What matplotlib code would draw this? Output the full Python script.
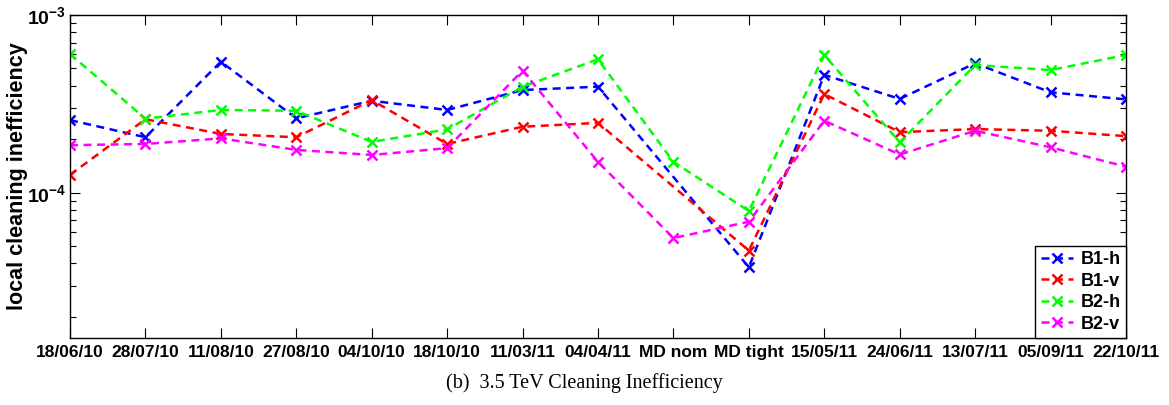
import numpy as np
import matplotlib
matplotlib.use('Agg')
import matplotlib.pyplot as plt
from matplotlib.ticker import FixedLocator, FuncFormatter, NullFormatter, LogLocator

# ── data ───────────────────────────────────────────────────────
DATES = ['18/06/10', '28/07/10', '11/08/10', '27/08/10', '04/10/10',
         '18/10/10', '11/03/11', '04/04/11', 'MD nom', 'MD tight',
         '15/05/11', '24/06/11', '13/07/11', '05/09/11', '22/10/11']

# B1 has no MD nom measurement
B1_H = [2.56e-4, 2.05e-4, 5.46e-4, 2.62e-4, 3.29e-4, 2.92e-4, 3.78e-4, 3.95e-4,
        np.nan, 3.80e-5, 4.60e-4, 3.37e-4, 5.35e-4, 3.67e-4, 3.35e-4]
B1_V = [1.26e-4, 2.59e-4, 2.14e-4, 2.05e-4, 3.32e-4, 1.88e-4, 2.35e-4, 2.47e-4,
        np.nan, 4.72e-5, 3.59e-4, 2.19e-4, 2.28e-4, 2.23e-4, 2.08e-4]
B2_H = [6.03e-4, 2.61e-4, 2.92e-4, 2.89e-4, 1.93e-4, 2.27e-4, 3.95e-4, 5.63e-4,
        1.49e-4, 7.88e-5, 5.95e-4, 1.92e-4, 5.23e-4, 4.90e-4, 5.95e-4]
B2_V = [1.85e-4, 1.88e-4, 2.02e-4, 1.74e-4, 1.63e-4, 1.78e-4, 4.86e-4, 1.49e-4,
        5.55e-5, 6.86e-5, 2.54e-4, 1.64e-4, 2.23e-4, 1.80e-4, 1.40e-4]

SERIES = [('B1-h', B1_H, '#0000ff'), ('B1-v', B1_V, '#ff0000'),
          ('B2-h', B2_H, '#00ff00'), ('B2-v', B2_V, '#ff00ff')]

YMIN, YMAX = 1.52e-5, 1e-3
SANS = 'Liberation Sans'
SERIF = 'Liberation Serif'

plt.rcParams['mathtext.fontset'] = 'custom'
plt.rcParams['mathtext.bf'] = 'Liberation Sans:bold'
plt.rcParams['mathtext.rm'] = 'Liberation Sans:bold'

fig = plt.figure(figsize=(11.69, 4.05), dpi=100)
ax = fig.add_axes([0.0599, 0.1654, 0.9033, 0.7976])

x = np.arange(len(DATES))
for name, vals, color in SERIES:
    v = np.array(vals)
    ok = np.isfinite(v)
    ax.plot(x[ok], v[ok], color=color, linestyle=(0, (3.2, 2.2)), linewidth=1.8,
            marker='x', markersize=7, markeredgewidth=1.8, label=name)

ax.set_yscale('log')
ax.set_ylim(YMIN, YMAX)
ax.set_xlim(0, len(DATES) - 1)

ax.xaxis.set_major_locator(FixedLocator(x))
ax.set_xticklabels(DATES, fontsize=12.5, fontweight='bold', family=SANS)
ax.yaxis.set_major_locator(FixedLocator([1e-4, 1e-3]))
ax.yaxis.set_major_formatter(FuncFormatter(
    lambda v, p: r'$\mathbf{10^{%d}}$' % int(round(np.log10(v)))))
ax.yaxis.set_minor_locator(LogLocator(base=10, subs=np.arange(2, 10)))
ax.yaxis.set_minor_formatter(NullFormatter())

ax.tick_params(axis='both', which='major', direction='in', length=7, width=0.8,
               top=True, right=True, pad=5)
ax.tick_params(axis='x', which='major', labelsize=12.5)
ax.tick_params(axis='y', which='major', labelsize=14, pad=3)
ax.tick_params(axis='y', which='minor', direction='in', length=4, width=0.8,
               right=True)

for spine in ax.spines.values():
    spine.set_linewidth(1.0)

ax.set_ylabel('local cleaning inefficiency', fontsize=15.5, fontweight='bold',
              family=SANS)
ax.yaxis.set_label_coords(-0.040, 0.5)

leg = ax.legend(loc='lower right', borderaxespad=0, fancybox=False,
                edgecolor='black', framealpha=1, handlelength=1.8,
                handletextpad=0.4, labelspacing=0.25, borderpad=0.3,
                prop={'family': SANS, 'weight': 'bold', 'size': 13})
leg.get_frame().set_linewidth(1.0)

fig.text(0.5, 0.055, '(b)  3.5 TeV Cleaning Inefficiency', ha='center',
         va='center', fontsize=14.5, family=SERIF)

fig.savefig('out.png', dpi=100)
